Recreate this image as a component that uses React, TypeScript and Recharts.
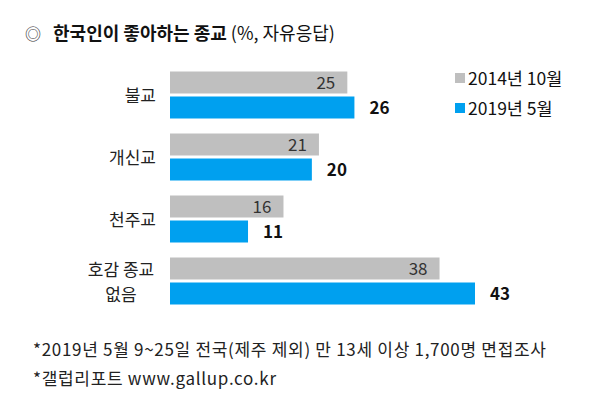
import React from "react";
import { BarChart, Bar, XAxis, YAxis, LabelList } from "recharts";

// ── Data ────────────────────────────────────────────────────────────
const categories = ["불교", "개신교", "천주교", "호감 종교 없음"];
const series2014 = [25, 21, 16, 38];
const series2019 = [26, 20, 11, 43];
const seriesNames = ["2014년 10월", "2019년 5월"];

const GRAY = "#bfbfbf";
const BLUE = "#00a0ef";
const FONT = "'Noto Sans CJK KR', 'Noto Sans', sans-serif";

const data = categories.map((name, i) => ({
  name,
  y2014: series2014[i],
  y2019: series2019[i],
}));

// category label, right aligned; the long one is split in two centred lines
const CategoryTick = (props: any) => {
  const { y, payload } = props;
  const label: string = payload.value;
  const right = 156;
  if (label === "호감 종교 없음") {
    const cx = 121;
    return (
      <text fill="#222" fontSize={17} fontFamily={FONT} textAnchor="middle" dominantBaseline="central">
        <tspan x={cx} y={y - 13}>호감 종교</tspan>
        <tspan x={cx} y={y + 12}>없음</tspan>
      </text>
    );
  }
  return (
    <text
      x={right}
      y={y}
      textAnchor="end"
      fill="#222"
      fontSize={17}
      fontFamily={FONT}
      dominantBaseline="central"
    >
      {label}
    </text>
  );
};

export default function App() {
  return (
    <div
      style={{
        position: "absolute",
        left: 0,
        top: 0,
        width: 600,
        height: 398,
        background: "#fff",
        fontFamily: FONT,
        color: "#111",
      }}
    >
      {/* title */}
      <div style={{ position: "absolute", left: 25, top: 19, fontSize: 18, whiteSpace: "nowrap" }}>
        <span style={{ fontSize: 16, marginRight: 12, color: "#333" }}>◎</span>
        <span style={{ fontWeight: 700 }}>한국인이 좋아하는 종교</span>
        <span> (%, 자유응답)</span>
      </div>

      <BarChart
        width={600}
        height={398}
        data={data}
        layout="vertical"
        margin={{ top: 63.5, right: 125, bottom: 86.5, left: 10 }}
        barSize={22}
        barGap={3}
        style={{ position: "absolute", left: 0, top: 0 }}
      >
        <XAxis type="number" domain={[0, 43]} hide />
        <YAxis
          type="category"
          dataKey="name"
          width={160}
          axisLine={false}
          tickLine={false}
          tick={<CategoryTick />}
        />
        <Bar dataKey="y2014" fill={GRAY} isAnimationActive={false}>
          <LabelList
            dataKey="y2014"
            position="insideRight"
            offset={12}
            fill="#333"
            fontSize={17}
            fontFamily={FONT}
          />
        </Bar>
        <Bar dataKey="y2019" fill={BLUE} isAnimationActive={false}>
          <LabelList
            dataKey="y2019"
            position="right"
            offset={15}
            fill="#111"
            fontSize={17}
            fontWeight={700}
            fontFamily={FONT}
          />
        </Bar>
      </BarChart>

      {/* legend */}
      {seriesNames.map((n, i) => (
        <div
          key={n}
          style={{
            position: "absolute",
            left: 455,
            top: 66 + i * 30,
            fontSize: 17.5,
            lineHeight: "24px",
            whiteSpace: "nowrap",
            display: "flex",
            alignItems: "center",
          }}
        >
          <span
            style={{
              display: "inline-block",
              width: 10,
              height: 10,
              background: i === 0 ? GRAY : BLUE,
              marginRight: 3,
            }}
          />
          {n}
        </div>
      ))}

      {/* footnotes */}
      <div
        style={{
          position: "absolute",
          left: 33,
          top: 334,
          fontSize: 17,
          letterSpacing: 0.7,
          lineHeight: "29px",
          color: "#222",
          whiteSpace: "nowrap",
        }}
      >
        <div>*2019년 5월 9~25일 전국(제주 제외) 만 13세 이상 1,700명 면접조사</div>
        <div>*갤럽리포트 www.gallup.co.kr</div>
      </div>
    </div>
  );
}
